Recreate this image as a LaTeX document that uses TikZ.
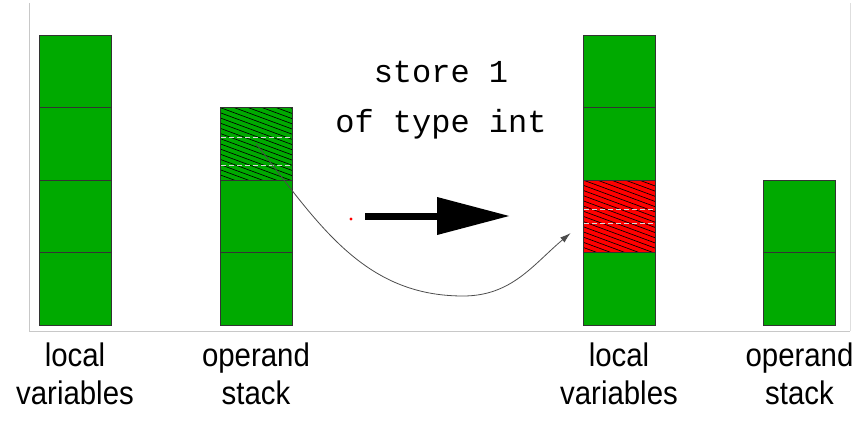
\documentclass[tikz,border=0pt]{standalone}
\usepackage{fontspec}
\setmainfont{Liberation Sans}
\newfontfamily\codefont{Liberation Mono}
\newfontfamily\capfont[FakeStretch=0.9]{Liberation Sans}
\usetikzlibrary{arrows.meta,positioning}
\definecolor{slotgreen}{RGB}{0,170,0}
\definecolor{slotred}{RGB}{255,0,0}
\definecolor{framegray}{RGB}{200,200,200}
\tikzset{
  cell/.style={draw=black!80,fill=slotgreen,minimum width=54pt,minimum height=54.375pt,inner sep=0pt,line width=0.6pt},
  hatched/.style={path picture={
      \foreach \k in {-16,...,6}
        \draw[black,line width=0.5pt] ([xshift=\k*10.5pt]path picture bounding box.north west) -- ++(170pt,-62.9pt);}},
  caption/.style={font=\capfont\fontsize{24.5}{28}\selectfont,align=center,inner sep=0pt},
  codetext/.style={font=\codefont\fontsize{24}{37.5}\selectfont,align=center,inner sep=0pt},
  seam/.style={white!85!black,line width=0.6pt,dash pattern=on 4pt off 2pt},
  bigarrow/.style={line width=5.25pt,-{Triangle[length=54.75pt,width=27pt]}},
  flow/.style={black!70,line width=0.6pt,-{Latex[length=8pt,width=5pt]}},
}
\begin{document}
\begin{tikzpicture}[x=0.75pt,y=-0.75pt]
          \useasboundingbox (0,0) rectangle (867,428);
          \draw[framegray] (29,3) -- (29,331) -- (850,331);
          \draw[framegray!60] (850,331) -- (850,3);
          \node[cell] at (75,71.25) (lv1) {};
          \node[cell] at (75,143.75) (lv2) {};
          \node[cell] at (75,216.25) (lv3) {};
          \node[cell] at (75,288.75) (lv4) {};
          \node[cell,hatched] at (256,143.75) (os1) {};
          \node[cell] at (256,216.25) (os2) {};
          \node[cell] at (256,288.75) (os3) {};
          \node[cell] at (619,71.25) (lvb1) {};
          \node[cell] at (619,143.75) (lvb2) {};
          \node[cell,hatched,fill=slotred] at (619,216.25) (lvb3) {};
          \node[cell] at (619,288.75) (lvb4) {};
          \node[cell] at (799.5,216.25) (osb1) {};
          \node[cell] at (799.5,288.75) (osb2) {};
          \draw[seam] (221,137) -- (291,137);
          \draw[seam] (221,165) -- (291,165);
          \draw[seam] (584,209) -- (654,209);
          \draw[seam] (584,223) -- (654,223);
          \node[codetext] at (441,100) (op) {store 1\\of type int};
          \fill[slotred] (351,219) circle (1.3pt);
          \coordinate (opstart) at (365,216);
          \coordinate (opend) at (510,216);
          \draw[bigarrow] (opstart) -- (opend);
          \coordinate (low) at (463,296);
          \coordinate[xshift=-9pt,yshift=-12.6pt] (dst) at (lvb3.west);
          \draw[flow] (os1.center) to[out=-52,in=180] (low) to[out=0,in=-140] (dst);
          \node[caption,below=13pt of lv4] (lvcap) {local\\variables};
          \node[caption,below=13pt of os3] (oscap) {operand\\stack};
          \node[caption,below=13pt of lvb4] (lvbcap) {local\\variables};
          \node[caption,below=13pt of osb2] (osbcap) {operand\\stack};
        \end{tikzpicture}
\end{document}
